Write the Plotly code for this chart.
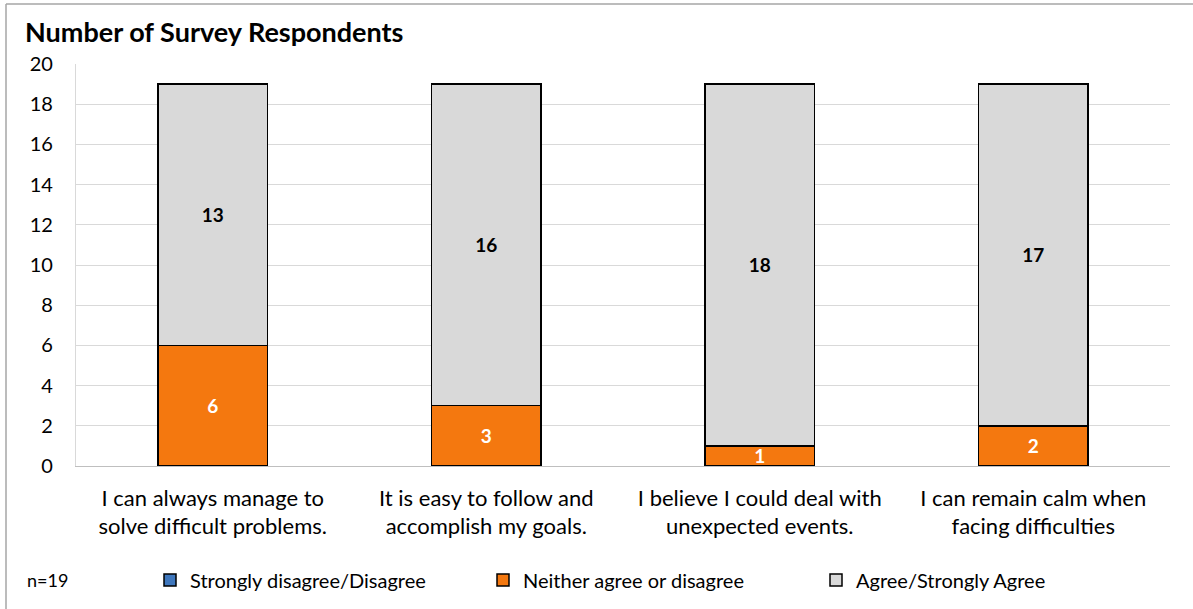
import plotly.graph_objects as go

categories = [
    "I can always manage to<br>solve difficult problems.",
    "It is easy to follow and<br>accomplish my goals.",
    "I believe I could deal with<br>unexpected events.",
    "I can remain calm when<br>facing difficulties",
]
disagree = [0, 0, 0, 0]
neutral = [6, 3, 1, 2]
agree = [13, 16, 18, 17]
y_ticks = [0, 2, 4, 6, 8, 10, 12, 14, 16, 18, 20]

FONT = "Lato, Carlito, Calibri, sans-serif"
W, H = 1193, 609
L, R, T, B = 76, 23, 64, 143
pw, ph = W - L - R, H - T - B


def px_x(px):
    return (px - L) / pw


def px_y(py):
    return (H - B - py) / ph


fig = go.Figure()
fig.add_bar(
    x=categories, y=disagree, name="Strongly disagree/Disagree",
    marker=dict(color="#3F77BD", line=dict(color="black", width=1.5)),
    hoverinfo="skip",
)
fig.add_bar(
    x=categories, y=neutral, name="Neither agree or disagree",
    marker=dict(color="#F4780F", line=dict(color="black", width=1.5)),
    text=[str(v) for v in neutral], textposition="inside", textangle=0,
    insidetextanchor="middle", constraintext="none",
    textfont=dict(color="white", size=19, family=FONT, weight="bold"),
)
fig.add_bar(
    x=categories, y=agree, name="Agree/Strongly Agree",
    marker=dict(color="#D9D9D9", line=dict(color="black", width=1.5)),
    text=[str(v) for v in agree], textposition="inside", textangle=0,
    insidetextanchor="middle", constraintext="none",
    textfont=dict(color="black", size=22, family=FONT, weight="bold"),
)

# outer chart frame (left and top edges)
fig.add_shape(type="line", xref="paper", yref="paper",
              x0=px_x(6), x1=px_x(6), y0=px_y(H + 5), y1=px_y(4),
              line=dict(color="#A6A6A6", width=1.5))
fig.add_shape(type="line", xref="paper", yref="paper",
              x0=px_x(6), x1=px_x(W + 5), y0=px_y(4), y1=px_y(4),
              line=dict(color="#A6A6A6", width=1.5))

fig.add_annotation(
    text="n=19", xref="paper", yref="paper",
    x=px_x(25), y=px_y(580), xanchor="left", yanchor="middle",
    showarrow=False, font=dict(size=18, family=FONT, color="black"),
)

fig.update_layout(
    width=W, height=H,
    margin=dict(l=L, r=R, t=T, b=B, autoexpand=False),
    barmode="stack", bargap=0.6,
    plot_bgcolor="white", paper_bgcolor="white",
    font=dict(family=FONT, color="black", size=20),
    title=dict(text="<b>Number of Survey Respondents</b>", xref="container", yref="container",
               x=25 / W, y=1 - 33 / H, xanchor="left", yanchor="middle",
               font=dict(size=27, family=FONT, color="black")),
    showlegend=True,
    legend=dict(orientation="h", xref="paper", yref="paper",
                x=px_x(150), y=px_y(580), xanchor="left", yanchor="middle",
                font=dict(size=20, family=FONT), traceorder="normal",
                itemwidth=30, entrywidth=288, entrywidthmode="pixels",
                bgcolor="rgba(0,0,0,0)"),
    uniformtext=dict(minsize=12, mode="show"),
)
fig.update_yaxes(
    range=[0, 20], tickvals=y_ticks, showgrid=True, gridcolor="#D9D9D9", gridwidth=1.3,
    showline=True, linecolor="#D9D9D9", linewidth=1.3, zeroline=False,
    ticklabelstandoff=18, tickfont=dict(size=20), mirror=False,
)
fig.update_xaxes(
    showline=True, linecolor="#BFBFBF", linewidth=1.3, ticks="",
    ticklabelstandoff=12, tickfont=dict(size=22), mirror=False,
)

fig.write_html("out.html")
